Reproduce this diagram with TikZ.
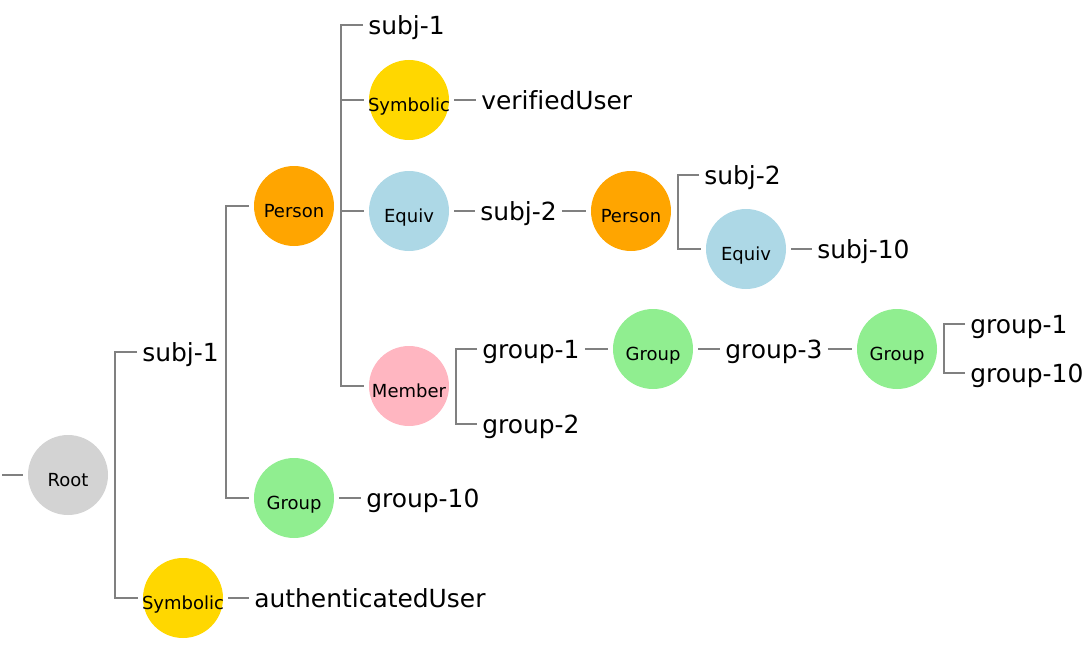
\documentclass[tikz,border=0pt]{standalone}
\usepackage{fontspec}
\setmainfont[Ligatures=NoCommon]{DejaVu Sans}
\usetikzlibrary{calc}
\definecolor{cgold}{HTML}{FFD700}
\definecolor{corange}{HTML}{FFA500}
\definecolor{cblue}{HTML}{ADD8E6}
\definecolor{cpink}{HTML}{FFB6C1}
\definecolor{cgreen}{HTML}{90EE90}
\definecolor{cgray}{HTML}{D3D3D3}
\definecolor{cline}{HTML}{808080}
\tikzset{
  circ/.style={circle, minimum size=60pt, inner sep=0pt, draw=none, fill=#1},
  ctext/.style={inner sep=0pt, text height=17.25pt, text depth=0pt, font=\fontsize{13.5}{15}\selectfont},
  lbl/.style={anchor=west, inner sep=0pt, text height=14.25pt, text depth=0pt, font=\fontsize{18.7}{21}\selectfont},
  conn/.style={draw=cline, line width=1.2pt}
}
\begin{document}
\begin{tikzpicture}[x=0.75pt,y=-0.75pt]
\useasboundingbox (0,0) rectangle (1091,649);
% circles
\node[circ=cgray]   (root) at (68,475) {};
\node[circ=cgold]   (sym1) at (183,598) {};
\node[circ=corange] (per1) at (294,206) {};
\node[circ=cgreen]  (grp1) at (294,498) {};
\node[circ=cgold]   (sym2) at (409,100) {};
\node[circ=cblue]   (eqv1) at (409,211) {};
\node[circ=cpink]   (mem)  at (409,386) {};
\node[circ=corange] (per2) at (631,211) {};
\node[circ=cblue]   (eqv2) at (746,249) {};
\node[circ=cgreen]  (grp2) at (653,349) {};
\node[circ=cgreen]  (grp3) at (897,349) {};
\node[ctext] at (root) {Root};
\node[ctext] at (sym1) {Symbolic};
\node[ctext] at (per1) {Person};
\node[ctext] at (grp1) {Group};
\node[ctext] at (sym2) {Symbolic};
\node[ctext] at (eqv1) {Equiv};
\node[ctext] at (mem)  {Member};
\node[ctext] at (per2) {Person};
\node[ctext] at (eqv2) {Equiv};
\node[ctext] at (grp2) {Group};
\node[ctext] at (grp3) {Group};
% labels
\node[lbl] (lsubj1)    at (142,352) {subj-1};
\node[lbl] (lauth)     at (254,598) {authenticatedUser};
\node[lbl] (lgrp10)    at (366,498) {group-10};
\node[lbl] (lsubj1b)   at (368,25)  {subj-1};
\node[lbl] (lverified) at (481,100) {verifiedUser};
\node[lbl] (lsubj2)    at (480,211) {subj-2};
\node[lbl] (lsubj2b)   at (704,175) {subj-2};
\node[lbl] (lsubj10)   at (817,249) {subj-10};
\node[lbl] (lgroup1)   at (482,349) {group-1};
\node[lbl] (lgroup2)   at (482,424) {group-2};
\node[lbl] (lgroup3)   at (725,349) {group-3};
\node[lbl] (lgroup1b)  at (970,324) {group-1};
\node[lbl] (lgroup10b) at (970,373) {group-10};
% root stub
\coordinate (rootin) at (2,475);
\draw[conn] (rootin) -- ($(root.west)+(-5,0)$);
% elbows
\draw[conn] ($(lsubj1.west)+(-5,0)$) -| ($(root.east)+(7,0)$) |- ($(sym1.west)+(-5,0)$);
\draw[conn] ($(per1.west)+(-5,0)$) -| ($(lsubj1.east)+(7,0)$) |- ($(grp1.west)+(-5,0)$);
\coordinate (pv) at ($(per1.east)+(7,0)$);
\draw[conn] ($(lsubj1b.west)+(-5,0)$) -| (pv) |- ($(mem.west)+(-5,0)$);
\draw[conn] (pv |- sym2.west) -- ($(sym2.west)+(-5,0)$);
\draw[conn] (pv |- eqv1.west) -- ($(eqv1.west)+(-5,0)$);
\draw[conn] ($(lsubj2b.west)+(-5,0)$) -| ($(per2.east)+(7,0)$) |- ($(eqv2.west)+(-5,0)$);
\draw[conn] ($(lgroup1.west)+(-5,0)$) -| ($(mem.east)+(7,0)$) |- ($(lgroup2.west)+(-5,0)$);
\draw[conn] ($(lgroup1b.west)+(-5,0)$) -| ($(grp3.east)+(7,0)$) |- ($(lgroup10b.west)+(-5,0)$);
% straight links
\draw[conn] ($(sym1.east)+(5,0)$) -- ($(lauth.west)+(-5,0)$);
\draw[conn] ($(grp1.east)+(5,0)$) -- ($(lgrp10.west)+(-5,0)$);
\draw[conn] ($(sym2.east)+(5,0)$) -- ($(lverified.west)+(-5,0)$);
\draw[conn] ($(eqv1.east)+(5,0)$) -- ($(lsubj2.west)+(-5,0)$);
\draw[conn] ($(lsubj2.east)+(5,0)$) -- ($(per2.west)+(-5,0)$);
\draw[conn] ($(eqv2.east)+(5,0)$) -- ($(lsubj10.west)+(-5,0)$);
\draw[conn] ($(lgroup1.east)+(5,0)$) -- ($(grp2.west)+(-5,0)$);
\draw[conn] ($(grp2.east)+(5,0)$) -- ($(lgroup3.west)+(-5,0)$);
\draw[conn] ($(lgroup3.east)+(5,0)$) -- ($(grp3.west)+(-5,0)$);
\end{tikzpicture}
\end{document}
